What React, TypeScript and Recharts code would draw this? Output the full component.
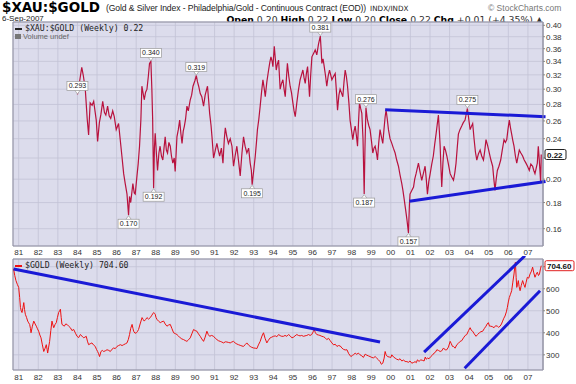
import React from "react";
import {
  ComposedChart,
  Line,
  XAxis,
  YAxis,
  CartesianGrid,
  ReferenceLine,
  ReferenceDot,
  ReferenceArea,
} from "recharts";

// $XAU:$GOLD weekly ratio (year as decimal)
const xauYears = [
  1984.0, 1984.08, 1984.15, 1984.22, 1984.3, 1984.4, 1984.5, 1984.57, 1984.65, 1984.75, 1984.83, 1984.96,
  1985.03, 1985.12, 1985.2, 1985.29, 1985.38, 1985.45, 1985.54, 1985.62, 1985.7, 1985.8, 1985.88, 1985.98,
  1986.1, 1986.18, 1986.27, 1986.36, 1986.44, 1986.53, 1986.61, 1986.66, 1986.72, 1986.83, 1986.9, 1986.95,
  1987.04, 1987.1, 1987.17, 1987.24, 1987.29, 1987.35, 1987.41, 1987.48, 1987.55, 1987.62, 1987.68, 1987.75,
  1987.8, 1987.84, 1987.89, 1987.93, 1987.97, 1988.03, 1988.09, 1988.16, 1988.22, 1988.29, 1988.36, 1988.42,
  1988.48, 1988.54, 1988.6, 1988.67, 1988.74, 1988.8, 1988.87, 1988.94, 1988.99, 1989.04, 1989.08, 1989.15,
  1989.22, 1989.28, 1989.34, 1989.4, 1989.46, 1989.52, 1989.59, 1989.66, 1989.76, 1989.83, 1989.9, 1990.0,
  1990.07, 1990.13, 1990.19, 1990.27, 1990.35, 1990.44, 1990.52, 1990.58, 1990.64, 1990.7, 1990.75, 1990.82,
  1990.87, 1990.95, 1991.04, 1991.12, 1991.19, 1991.26, 1991.35, 1991.43, 1991.5, 1991.55, 1991.63, 1991.71,
  1991.8, 1991.89, 1991.97, 1992.05, 1992.14, 1992.22, 1992.31, 1992.4, 1992.48, 1992.56, 1992.65, 1992.74,
  1992.82, 1992.88, 1992.92, 1993.0, 1993.08, 1993.14, 1993.19, 1993.26, 1993.33, 1993.4, 1993.47, 1993.53,
  1993.59, 1993.67, 1993.76, 1993.82, 1993.88, 1993.94, 1993.98, 1994.05, 1994.1, 1994.15, 1994.21, 1994.27,
  1994.35, 1994.42, 1994.49, 1994.55, 1994.61, 1994.67, 1994.72, 1994.79, 1994.86, 1994.93, 1995.0, 1995.06,
  1995.12, 1995.2, 1995.28, 1995.37, 1995.44, 1995.51, 1995.57, 1995.63, 1995.69, 1995.75, 1995.8, 1995.85,
  1995.91, 1995.97, 1996.05, 1996.14, 1996.22, 1996.31, 1996.4, 1996.44, 1996.48, 1996.54, 1996.6, 1996.67,
  1996.73, 1996.8, 1996.87, 1996.93, 1996.99, 1997.08, 1997.16, 1997.22, 1997.28, 1997.35, 1997.41, 1997.48,
  1997.55, 1997.61, 1997.67, 1997.73, 1997.79, 1997.86, 1997.92, 1998.0, 1998.06, 1998.12, 1998.18, 1998.24,
  1998.3, 1998.35, 1998.4, 1998.46, 1998.52, 1998.58, 1998.64, 1998.68, 1998.73, 1998.8, 1998.87, 1998.94,
  1999.01, 1999.08, 1999.14, 1999.2, 1999.26, 1999.32, 1999.38, 1999.45, 1999.52, 1999.59, 1999.65, 1999.71,
  1999.76, 1999.82, 1999.88, 1999.96, 2000.05, 2000.13, 2000.22, 2000.3, 2000.39, 2000.47, 2000.56, 2000.62,
  2000.68, 2000.75, 2000.82, 2000.9, 2000.95, 2000.98, 2001.07, 2001.16, 2001.22, 2001.29, 2001.35, 2001.41,
  2001.5, 2001.58, 2001.66, 2001.75, 2001.81, 2001.87, 2001.94, 2002.01, 2002.09, 2002.17, 2002.24, 2002.31,
  2002.37, 2002.43, 2002.48, 2002.52, 2002.56, 2002.6, 2002.66, 2002.72, 2002.79, 2002.86, 2002.94, 2003.03,
  2003.11, 2003.2, 2003.27, 2003.33, 2003.39, 2003.45, 2003.53, 2003.62, 2003.7, 2003.79, 2003.85, 2003.91,
  2003.98, 2004.05, 2004.12, 2004.18, 2004.25, 2004.32, 2004.39, 2004.47, 2004.56, 2004.64, 2004.73, 2004.8,
  2004.86, 2004.95, 2005.03, 2005.11, 2005.2, 2005.26, 2005.32, 2005.38, 2005.44, 2005.52, 2005.61, 2005.69,
  2005.78, 2005.85, 2005.92, 2005.98, 2006.05, 2006.11, 2006.17, 2006.23, 2006.29, 2006.36, 2006.43, 2006.5,
  2006.56, 2006.64, 2006.73, 2006.81, 2006.9, 2006.98, 2007.07, 2007.15, 2007.24, 2007.3, 2007.36, 2007.42,
  2007.48, 2007.53, 2007.59, 2007.65, 2007.68,
];
const xauValues = [
  0.293, 0.305, 0.318, 0.331, 0.319, 0.3, 0.262, 0.244, 0.282, 0.279, 0.284, 0.261,
  0.237, 0.258, 0.268, 0.284, 0.27, 0.267, 0.278, 0.266, 0.263, 0.272, 0.265, 0.25,
  0.257, 0.24, 0.222, 0.205, 0.196, 0.187, 0.17, 0.185, 0.18, 0.196, 0.188, 0.187,
  0.203, 0.214, 0.232, 0.262, 0.304, 0.295, 0.286, 0.296, 0.3, 0.318, 0.337, 0.34,
  0.3, 0.262, 0.192, 0.23, 0.246, 0.225, 0.208, 0.225, 0.232, 0.222, 0.218, 0.23,
  0.242, 0.228, 0.225, 0.236, 0.232, 0.222, 0.215, 0.22, 0.207, 0.225, 0.242, 0.25,
  0.261, 0.246, 0.235, 0.248, 0.254, 0.262, 0.278, 0.272, 0.286, 0.292, 0.304, 0.312,
  0.319, 0.31, 0.304, 0.294, 0.29, 0.278, 0.292, 0.298, 0.304, 0.285, 0.269, 0.255,
  0.242, 0.22, 0.228, 0.235, 0.228, 0.222, 0.23, 0.215, 0.24, 0.252, 0.242, 0.235,
  0.24, 0.232, 0.212, 0.222, 0.232, 0.218, 0.203, 0.225, 0.242, 0.232, 0.225, 0.23,
  0.215, 0.208, 0.195, 0.208, 0.222, 0.236, 0.25, 0.262, 0.278, 0.296, 0.313, 0.302,
  0.29, 0.31, 0.327, 0.338, 0.347, 0.34, 0.332, 0.364, 0.345, 0.327, 0.336, 0.342,
  0.3, 0.308, 0.313, 0.3, 0.29, 0.315, 0.337, 0.318, 0.304, 0.295, 0.282, 0.272,
  0.265, 0.282, 0.298, 0.313, 0.32, 0.327, 0.316, 0.308, 0.322, 0.332, 0.312, 0.29,
  0.32, 0.347, 0.352, 0.358, 0.35, 0.368, 0.381, 0.36, 0.337, 0.344, 0.332, 0.318,
  0.304, 0.318, 0.327, 0.32, 0.313, 0.318, 0.322, 0.298, 0.273, 0.292, 0.3, 0.295,
  0.29, 0.31, 0.327, 0.318, 0.304, 0.282, 0.261, 0.248, 0.239, 0.248, 0.254, 0.244,
  0.232, 0.258, 0.282, 0.275, 0.269, 0.24, 0.187, 0.23, 0.276, 0.262, 0.255, 0.25,
  0.238, 0.225, 0.23, 0.232, 0.226, 0.218, 0.235, 0.25, 0.242, 0.235, 0.25, 0.265,
  0.273, 0.262, 0.25, 0.24, 0.235, 0.23, 0.225, 0.218, 0.212, 0.204, 0.196, 0.19,
  0.183, 0.175, 0.167, 0.157, 0.178, 0.187, 0.19, 0.193, 0.2, 0.205, 0.21, 0.215,
  0.206, 0.199, 0.205, 0.212, 0.2, 0.187, 0.198, 0.205, 0.214, 0.222, 0.234, 0.245,
  0.256, 0.267, 0.248, 0.232, 0.21, 0.193, 0.215, 0.232, 0.228, 0.222, 0.214, 0.205,
  0.202, 0.199, 0.206, 0.215, 0.23, 0.245, 0.25, 0.254, 0.258, 0.261, 0.268, 0.275,
  0.262, 0.25, 0.254, 0.257, 0.24, 0.226, 0.218, 0.224, 0.228, 0.222, 0.218, 0.228,
  0.239, 0.232, 0.225, 0.218, 0.212, 0.2, 0.19, 0.2, 0.208, 0.212, 0.218, 0.228,
  0.239, 0.236, 0.239, 0.25, 0.261, 0.252, 0.245, 0.238, 0.232, 0.222, 0.215, 0.222,
  0.228, 0.225, 0.222, 0.218, 0.215, 0.212, 0.208, 0.214, 0.212, 0.208, 0.205, 0.21,
  0.215, 0.232, 0.215, 0.197, 0.2235,
];

// $GOLD weekly price
const goldYears = [
  1980.74, 1980.8, 1980.86, 1980.93, 1981.0, 1981.05, 1981.09, 1981.13, 1981.17, 1981.22, 1981.26, 1981.3,
  1981.34, 1981.4, 1981.46, 1981.51, 1981.56, 1981.6, 1981.63, 1981.7, 1981.77, 1981.84, 1981.9, 1981.96,
  1982.02, 1982.08, 1982.14, 1982.21, 1982.28, 1982.35, 1982.41, 1982.45, 1982.48, 1982.53, 1982.58, 1982.64,
  1982.7, 1982.75, 1982.79, 1982.86, 1982.92, 1982.98, 1983.04, 1983.09, 1983.13, 1983.17, 1983.21, 1983.27,
  1983.33, 1983.4, 1983.47, 1983.55, 1983.64, 1983.72, 1983.81, 1983.9, 1983.98, 1984.06, 1984.15, 1984.23,
  1984.32, 1984.38, 1984.45, 1984.51, 1984.57, 1984.65, 1984.74, 1984.82, 1984.91, 1984.97, 1985.03, 1985.08,
  1985.13, 1985.2, 1985.27, 1985.34, 1985.42, 1985.51, 1985.6, 1985.68, 1985.76, 1985.85, 1985.93, 1986.02,
  1986.1, 1986.19, 1986.28, 1986.36, 1986.45, 1986.53, 1986.6, 1986.66, 1986.72, 1986.79, 1986.84, 1986.87,
  1986.94, 1987.01, 1987.06, 1987.12, 1987.2, 1987.3, 1987.36, 1987.41, 1987.48, 1987.55, 1987.63, 1987.72,
  1987.8, 1987.89, 1987.94, 1987.97, 1988.01, 1988.06, 1988.15, 1988.23, 1988.31, 1988.4, 1988.48, 1988.57,
  1988.65, 1988.74, 1988.82, 1988.91, 1989.0, 1989.08, 1989.16, 1989.25, 1989.33, 1989.42, 1989.5, 1989.59,
  1989.67, 1989.76, 1989.84, 1989.93, 1990.01, 1990.1, 1990.18, 1990.27, 1990.35, 1990.44, 1990.52, 1990.61,
  1990.68, 1990.75, 1990.85, 1990.95, 1991.04, 1991.12, 1991.2, 1991.29, 1991.37, 1991.46, 1991.55, 1991.63,
  1991.72, 1991.8, 1991.88, 1991.97, 1992.05, 1992.14, 1992.22, 1992.31, 1992.4, 1992.48, 1992.56, 1992.65,
  1992.74, 1992.82, 1992.9, 1992.99, 1993.08, 1993.16, 1993.24, 1993.33, 1993.42, 1993.5, 1993.58, 1993.67,
  1993.75, 1993.84, 1993.92, 1994.01, 1994.1, 1994.18, 1994.27, 1994.35, 1994.43, 1994.52, 1994.6, 1994.69,
  1994.78, 1994.86, 1994.95, 1995.03, 1995.11, 1995.2, 1995.28, 1995.37, 1995.45, 1995.54, 1995.62, 1995.71,
  1995.8, 1995.88, 1995.96, 1996.04, 1996.09, 1996.15, 1996.22, 1996.3, 1996.38, 1996.48, 1996.56, 1996.64,
  1996.73, 1996.82, 1996.9, 1996.99, 1997.08, 1997.16, 1997.25, 1997.33, 1997.42, 1997.5, 1997.58, 1997.67,
  1997.76, 1997.85, 1997.96, 1998.05, 1998.1, 1998.18, 1998.26, 1998.34, 1998.43, 1998.52, 1998.6, 1998.69,
  1998.78, 1998.86, 1998.94, 1999.03, 1999.11, 1999.2, 1999.28, 1999.36, 1999.45, 1999.52, 1999.59, 1999.66,
  1999.71, 1999.76, 1999.83, 1999.92, 2000.0, 2000.05, 2000.14, 2000.22, 2000.3, 2000.39, 2000.47, 2000.56,
  2000.65, 2000.73, 2000.82, 2000.9, 2000.98, 2001.07, 2001.16, 2001.24, 2001.3, 2001.36, 2001.44, 2001.53,
  2001.61, 2001.7, 2001.76, 2001.81, 2001.87, 2001.95, 2002.04, 2002.12, 2002.21, 2002.28, 2002.35, 2002.43,
  2002.52, 2002.6, 2002.69, 2002.78, 2002.86, 2002.94, 2003.03, 2003.09, 2003.15, 2003.2, 2003.28, 2003.37,
  2003.45, 2003.54, 2003.62, 2003.71, 2003.8, 2003.88, 2003.97, 2004.05, 2004.12, 2004.18, 2004.26, 2004.35,
  2004.43, 2004.52, 2004.6, 2004.69, 2004.78, 2004.86, 2004.92, 2004.98, 2005.04, 2005.1, 2005.18, 2005.27,
  2005.35, 2005.44, 2005.5, 2005.58, 2005.65, 2005.71, 2005.77, 2005.83, 2005.9, 2005.95, 2006.0, 2006.05,
  2006.11, 2006.17, 2006.23, 2006.29, 2006.33, 2006.36, 2006.4, 2006.43, 2006.47, 2006.51, 2006.55, 2006.6,
  2006.66, 2006.73, 2006.79, 2006.85, 2006.91, 2006.97, 2007.04, 2007.11, 2007.18, 2007.24, 2007.3, 2007.36,
  2007.42, 2007.48, 2007.54, 2007.59, 2007.64, 2007.68,
];
const goldValues = [
  690, 660, 637, 620, 606, 560, 515, 500, 492, 515, 537, 505,
  484, 470, 453, 445, 438, 420, 400, 430, 453, 440, 430, 418,
  407, 390, 377, 345, 315, 330, 346, 325, 308, 335, 361, 410,
  453, 435, 423, 438, 446, 470, 492, 500, 507, 470, 438, 434,
  430, 440, 438, 430, 423, 410, 415, 398, 384, 378, 392, 385,
  377, 380, 384, 362, 346, 350, 354, 345, 338, 325, 315, 305,
  292, 315, 320, 315, 318, 323, 320, 315, 325, 331, 328, 338,
  342, 346, 342, 346, 350, 354, 370, 392, 420, 438, 418, 407,
  398, 400, 405, 415, 440, 469, 460, 453, 460, 469, 462, 469,
  480, 492, 488, 484, 470, 461, 452, 446, 450, 453, 440, 430,
  435, 438, 420, 400, 396, 392, 385, 377, 372, 369, 365, 361,
  368, 377, 395, 415, 410, 407, 395, 384, 372, 361, 380, 407,
  392, 384, 388, 384, 375, 369, 364, 361, 358, 354, 359, 358,
  356, 354, 358, 361, 354, 349, 346, 343, 340, 338, 346, 354,
  344, 338, 334, 331, 330, 328, 345, 361, 385, 400, 375, 354,
  366, 377, 380, 384, 386, 382, 392, 387, 384, 384, 388, 384,
  392, 386, 377, 380, 386, 392, 388, 386, 388, 384, 386, 388,
  392, 388, 392, 405, 415, 400, 392, 390, 388, 384, 382, 378,
  369, 375, 365, 354, 345, 348, 338, 342, 340, 331, 325, 322,
  323, 305, 292, 298, 300, 308, 302, 308, 300, 295, 288, 303,
  298, 295, 292, 288, 286, 292, 285, 278, 269, 257, 262, 285,
  315, 300, 292, 290, 288, 300, 290, 285, 280, 277, 282, 272,
  276, 270, 269, 266, 272, 262, 265, 269, 264, 277, 270, 277,
  275, 272, 290, 280, 285, 282, 292, 298, 308, 312, 323, 320,
  315, 318, 331, 322, 323, 335, 361, 350, 338, 338, 330, 346,
  352, 361, 364, 377, 388, 392, 410, 423, 410, 407, 395, 384,
  392, 400, 405, 407, 420, 430, 440, 446, 430, 430, 428, 423,
  432, 430, 425, 430, 440, 453, 466, 476, 495, 515, 540, 560,
  575, 591, 630, 667, 700, 720, 650, 606, 620, 637, 610, 591,
  615, 637, 620, 606, 630, 652, 648, 667, 680, 698, 672, 652,
  665, 675, 660, 667, 690, 704.6,
];

const yearTicks = [
  1981, 1982, 1983, 1984, 1985, 1986, 1987, 1988, 1989, 1990, 1991, 1992, 1993, 1994,
  1995, 1996, 1997, 1998, 1999, 2000, 2001, 2002, 2003, 2004, 2005, 2006, 2007,
];
const xauTicks = [0.16, 0.18, 0.2, 0.22, 0.24, 0.26, 0.28, 0.3, 0.32, 0.34, 0.36, 0.38, 0.4];
const goldTicks = [300, 400, 500, 600, 700];

// labelled highs / lows on the ratio panel
const calloutYears = [1984.0, 1987.75, 1986.61, 1987.89, 1990.07, 1992.92, 1996.4, 1998.73, 1998.64, 2000.9, 2003.91];
const calloutValues = [0.293, 0.34, 0.17, 0.192, 0.319, 0.195, 0.381, 0.276, 0.187, 0.157, 0.275];
const calloutBelow = [false, false, true, true, false, true, false, false, true, true, false];

// hand-drawn trend lines: [x1, y1, x2, y2]
const xauTrendLines = [
  [1999.71, 0.2734, 2007.9, 0.265],
  [2000.95, 0.181, 2007.9, 0.198],
];
const goldTrendLines = [
  [1980.74, 690, 1999.45, 358],
  [2001.7, 312, 2006.85, 750],
  [2003.77, 239, 2007.62, 591],
];

const X_MIN = 1980.71;
const X_MAX = 2007.77;
const XAU_DOMAIN = [0.148, 0.406];
const GOLD_DOMAIN = [231, 735];

const xauData = xauYears.map((t, i) => ({ t, v: xauValues[i] }));
const goldData = goldYears.map((t, i) => ({ t, v: goldValues[i] }));

const AXIS_FONT = "'Liberation Sans', Arial, sans-serif";
const PLOT_BG = "#dcdcec";
const GRID = "#c3c3d5";
const TREND = "#1a1ad6";

const yearLabel = (y: number) => String(y % 100).padStart(2, "0");

function RightTick({ x, y, payload, hide }: any) {
  if (payload.value === hide) return null;
  const label = payload.value < 1 ? payload.value.toFixed(2) : String(payload.value);
  return (
    <text x={x} y={y} dy={3} fontSize={8} fill="#333" fontFamily={AXIS_FONT}>
      {label}
    </text>
  );
}

function Callout({ cx, cy, text, below }: any) {
  const w = 21;
  const h = 9;
  const by = below ? cy + 4 : cy - 4 - h;
  const tri = below
    ? `${cx - 3},${by + 0.5} ${cx + 3},${by + 0.5} ${cx},${cy + 0.5}`
    : `${cx - 3},${by + h - 0.5} ${cx + 3},${by + h - 0.5} ${cx},${cy - 0.5}`;
  return (
    <g>
      <polygon points={tri} fill="#fff" stroke="#999" strokeWidth={0.7} />
      <rect x={cx - w / 2} y={by} width={w} height={h} fill="#fff" stroke="#999" strokeWidth={0.7} />
      <text x={cx} y={by + h - 2} textAnchor="middle" fontSize={7} fill="#222" fontFamily={AXIS_FONT}>
        {text}
      </text>
    </g>
  );
}

function PriceBox({ cy, text, color, width }: any) {
  return (
    <g>
      <rect x={545} y={cy - 5} width={width} height={10} rx={1.5} fill="#fff" stroke={color} strokeWidth={1} />
      <text x={547} y={cy + 3} fontSize={8} fontWeight="bold" fill="#111" fontFamily={AXIS_FONT}>
        {text}
      </text>
    </g>
  );
}

const overlay: React.CSSProperties = { position: "absolute", whiteSpace: "nowrap", lineHeight: 1 };

export default function App() {
  const lastXau = xauValues[xauValues.length - 1];
  const lastGold = goldValues[goldValues.length - 1];
  return (
    <div style={{ position: "absolute", left: 0, top: 0, width: 576, height: 384, background: "#fff", overflow: "hidden" }}>
      {/* header */}
      <div style={{ ...overlay, left: 2, top: 1, height: 13, fontSize: 13.5, fontWeight: "bold", color: "#000", fontFamily: "'DejaVu Sans', sans-serif" }}>
        $XAU:$GOLD
      </div>
      <div style={{ ...overlay, left: 106, top: 4, fontSize: 8.6, letterSpacing: -0.1, color: "#222", fontFamily: AXIS_FONT }}>
        (Gold &amp; Silver Index - Philadelphia/Gold - Continuous Contract (EOD))
        <span style={{ fontSize: 7.2, letterSpacing: 0, marginLeft: 4, fontFamily: "'DejaVu Sans', sans-serif" }}>INDX/INDX</span>
      </div>
      <div style={{ ...overlay, left: 488, top: 4, fontSize: 8.5, color: "#777", fontFamily: AXIS_FONT }}>
        © StockCharts.com
      </div>
      <div style={{ ...overlay, left: 2, top: 15, fontSize: 8, color: "#222", fontFamily: AXIS_FONT }}>6-Sep-2007</div>
      <div style={{ ...overlay, right: 33, top: 14.5, fontSize: 9.3, color: "#333", fontFamily: "'DejaVu Sans', sans-serif" }}>
        <b style={{ color: "#000" }}>Open</b> 0.20 <b style={{ color: "#000" }}>High</b> 0.22{" "}
        <b style={{ color: "#000" }}>Low</b> 0.20 <b style={{ color: "#000" }}>Close</b> 0.22{" "}
        <b style={{ color: "#000" }}>Chg</b> +0.01 (+4.35%) ▲
      </div>

      {/* ratio panel */}
      <div style={{ position: "absolute", left: 0, top: 0 }}>
        <ComposedChart width={576} height={262} data={xauData} margin={{ top: 22, right: 0, bottom: 0, left: 13 }}>
          <CartesianGrid fill={PLOT_BG} stroke={GRID} strokeWidth={0.8} />
          <XAxis
            dataKey="t"
            type="number"
            domain={[X_MIN, X_MAX]}
            allowDataOverflow
            ticks={yearTicks}
            tickFormatter={yearLabel}
            height={16}
            tickSize={0}
            tickMargin={3}
            axisLine={false}
            interval={0}
            tick={{ fontSize: 8, fill: "#333", fontFamily: AXIS_FONT }}
          />
          <YAxis
            orientation="right"
            scale="log"
            domain={XAU_DOMAIN}
            allowDataOverflow
            ticks={xauTicks}
            width={33}
            tickSize={2}
            tickMargin={1}
            interval={0}
            axisLine={{ stroke: "#9a9aaa" }}
            tickLine={{ stroke: "#888" }}
            tick={<RightTick hide={0.22} />}
          />
          <ReferenceArea
            x1={X_MIN}
            x2={X_MAX}
            y1={XAU_DOMAIN[0]}
            y2={XAU_DOMAIN[1]}
            fill="none"
            stroke="#8f8fa0"
            ifOverflow="visible"
          />
          <Line
            dataKey="v"
            type="linear"
            stroke="#b8123e"
            strokeWidth={1.2}
            dot={false}
            isAnimationActive={false}
          />
          {xauTrendLines.map(([x1, y1, x2, y2], i) => (
            <ReferenceLine
              key={"xt" + i}
              segment={[{ x: x1, y: y1 }, { x: x2, y: y2 }]}
              stroke={TREND}
              strokeWidth={3}
              ifOverflow="visible"
            />
          ))}
          {calloutYears.map((yr, i) => (
            <ReferenceDot
              key={"c" + i}
              x={yr}
              y={calloutValues[i]}
              r={0}
              ifOverflow="visible"
              shape={(p: any) => (
                <Callout cx={p.cx} cy={p.cy} text={calloutValues[i].toFixed(3)} below={calloutBelow[i]} />
              )}
            />
          ))}
          <ReferenceDot
            x={xauYears[xauYears.length - 1]}
            y={lastXau}
            r={0}
            ifOverflow="visible"
            shape={(p: any) => <PriceBox cy={p.cy} text="0.22" color="#222" width={21} />}
          />
        </ComposedChart>
      </div>
      <div style={{ ...overlay, left: 15, top: 24, fontSize: 8.2, color: "#222", fontFamily: "'DejaVu Sans Mono', monospace" }}>
        <span style={{ display: "inline-block", width: 7, height: 2, background: "#222", verticalAlign: "middle", marginRight: 3 }} />
        $XAU:$GOLD (Weekly) 0.22
      </div>
      <div style={{ ...overlay, left: 15, top: 33, fontSize: 7.5, color: "#666", fontFamily: AXIS_FONT }}>
        <span style={{ display: "inline-block", width: 6, height: 5, background: "#777", marginRight: 2 }} />
        Volume undef
      </div>

      {/* gold panel */}
      <div style={{ position: "absolute", left: 0, top: 256 }}>
        <ComposedChart width={576} height={128} data={goldData} margin={{ top: 3, right: 0, bottom: 0, left: 13 }}>
          <CartesianGrid fill={PLOT_BG} stroke={GRID} strokeWidth={0.8} />
          <XAxis
            dataKey="t"
            type="number"
            domain={[X_MIN, X_MAX]}
            allowDataOverflow
            ticks={yearTicks}
            tickFormatter={yearLabel}
            height={14}
            tickSize={0}
            tickMargin={4}
            axisLine={false}
            interval={0}
            tick={{ fontSize: 8, fill: "#333", fontFamily: AXIS_FONT }}
          />
          <YAxis
            orientation="right"
            domain={GOLD_DOMAIN}
            allowDataOverflow
            ticks={goldTicks}
            width={33}
            tickSize={2}
            tickMargin={1}
            interval={0}
            axisLine={{ stroke: "#9a9aaa" }}
            tickLine={{ stroke: "#888" }}
            tick={<RightTick hide={700} />}
          />
          <ReferenceArea
            x1={X_MIN}
            x2={X_MAX}
            y1={GOLD_DOMAIN[0]}
            y2={GOLD_DOMAIN[1]}
            fill="none"
            stroke="#8f8fa0"
            ifOverflow="visible"
          />
          <Line dataKey="v" type="linear" stroke="#ee1111" strokeWidth={1} dot={false} isAnimationActive={false} />
          {goldTrendLines.map(([x1, y1, x2, y2], i) => (
            <ReferenceLine
              key={"gt" + i}
              segment={[{ x: x1, y: y1 }, { x: x2, y: y2 }]}
              stroke={TREND}
              strokeWidth={3}
              ifOverflow="visible"
            />
          ))}
          <ReferenceDot
            x={goldYears[goldYears.length - 1]}
            y={lastGold}
            r={0}
            ifOverflow="visible"
            shape={(p: any) => <PriceBox cy={p.cy} text={lastGold.toFixed(2)} color="#e02020" width={29} />}
          />
        </ComposedChart>
      </div>
      <div style={{ ...overlay, left: 15, top: 261, fontSize: 8.2, color: "#222", fontFamily: "'DejaVu Sans Mono', monospace" }}>
        <span style={{ display: "inline-block", width: 7, height: 2, background: "#ee1111", verticalAlign: "middle", marginRight: 3 }} />
        $GOLD (Weekly) 704.60
      </div>
    </div>
  );
}
